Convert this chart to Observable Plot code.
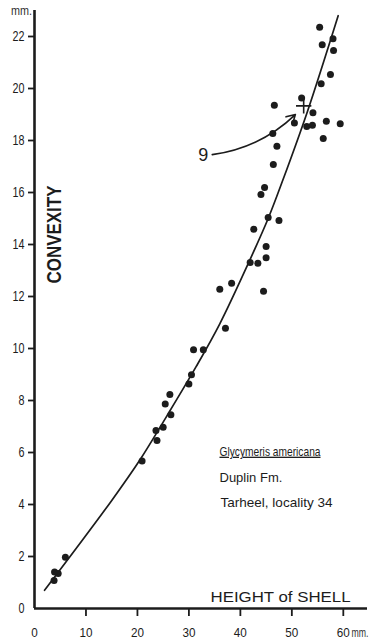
<!DOCTYPE html>
<html><head><meta charset="utf-8">
<script src="https://cdn.jsdelivr.net/npm/d3@7"></script>
<script src="https://cdn.jsdelivr.net/npm/@observablehq/plot@0.6"></script>
<style>
html,body{margin:0;padding:0;background:#fff;}
#chart{width:375px;height:644px;overflow:hidden;}
</style></head><body><div id="chart"></div>
<script>
// Scatter: height of shell (mm) vs convexity (mm)
const shellHeight = [55.4,58.0,55.9,58.1,57.5,55.7,51.9,46.6,54.1,50.5,52.9,54.0,56.7,59.4,56.1,46.3,47.1,46.4,44.7,44.0,45.4,47.5,42.6,45.0,45.0,41.9,43.4,38.3,36.0,44.5,37.1,30.9,32.8,30.5,30.0,26.3,25.4,26.5,25.0,23.6,23.8,20.9,6.0,4.6,3.9,3.8];
const convexity = [22.36,21.91,21.68,21.46,20.54,20.18,19.63,19.36,19.07,18.67,18.54,18.59,18.74,18.64,18.08,18.27,17.78,17.08,16.19,15.92,15.04,14.92,14.59,13.92,13.49,13.31,13.28,12.51,12.28,12.20,10.78,9.95,9.95,8.99,8.63,8.23,7.87,7.45,6.97,6.85,6.46,5.67,1.97,1.35,1.40,1.08];
// Fitted growth curve
const curveHeight = [1.95,14.8,20.6,25.7,31.4,36.0,41.6,45.4,48.2,53.0,59.0];
const curveConvexity = [0.70,4.1,5.75,7.4,9.3,10.95,13.3,15.0,16.45,19.1,22.8];
// Marked specimen "9"
const specimenHeight = [52.3];
const specimenConvexity = [19.33];
const specimenLabel = ["9"];
const labelHeight = [32.8];
const labelConvexity = [17.42];
// Axes and texts
const yTicks = [2,4,6,8,10,12,14,16,18,20,22];
const xTicks = [10,20,30,40,50,60];
const xTitle = ["HEIGHT of SHELL"];
const yTitle = ["CONVEXITY"];
const unitLabel = ["mm."];
const speciesName = ["Glycymeris americana"];
const formationName = ["Duplin Fm."];
const localityName = ["Tarheel, locality 34"];

const points = shellHeight.map((h,i)=>({h, c: convexity[i]}));
const curve = curveHeight.map((h,i)=>({h, c: curveConvexity[i]}));
const specimen = specimenHeight.map((h,i)=>({h, c: specimenConvexity[i], lh: labelHeight[i], lc: labelConvexity[i], label: specimenLabel[i]}));

const font = "'Liberation Sans',Arial,sans-serif";
const ink = "#1c1c1c";
const T = d => d;

const chart = Plot.plot({
  width: 375, height: 644,
  marginLeft: 34, marginRight: 8, marginTop: 10, marginBottom: 36,
  x: {domain: [0, 64.7], axis: null},
  y: {domain: [0, 23], axis: null},
  style: {fontFamily: font, color: ink, background: "#fff"},
  marks: [
    Plot.ruleX([0], {stroke: ink, strokeWidth: 2.6}),
    Plot.ruleY([0], {stroke: ink, strokeWidth: 2.6}),
    Plot.axisY(yTicks, {anchor: "left", tickSize: 6, tickPadding: 4, fontSize: 15, stroke: ink, strokeWidth: 1.8, fill: ink, label: null, tickFormat: d => String(d)}),
    Plot.axisY([0], {anchor: "left", tickSize: 0, tickPadding: 10, fontSize: 15, fill: ink, label: null, tickFormat: d => String(d)}),
    Plot.axisX(xTicks, {anchor: "bottom", tickSize: 8, tickPadding: 11, fontSize: 13.5, stroke: ink, strokeWidth: 1.8, fill: ink, label: null, tickFormat: d => String(d)}),
    Plot.axisX([0], {anchor: "bottom", tickSize: 0, tickPadding: 19, fontSize: 13.5, fill: ink, label: null, tickFormat: d => String(d)}),
    Plot.text(unitLabel, {text: T, frameAnchor: "top-left", dx: -13, dy: 1, textAnchor: "middle", lineAnchor: "middle", fontSize: 12, fill: "#333", className: "unit-top"}),
    Plot.text(unitLabel, {text: T, frameAnchor: "bottom-right", dx: -16, dy: 25, textAnchor: "start", lineAnchor: "middle", fontSize: 12, fill: "#333", className: "unit-bottom"}),
    Plot.text(xTitle, {text: T, frameAnchor: "bottom-right", dx: -17, dy: -11, textAnchor: "end", lineAnchor: "middle", fontSize: 15.5, fill: ink, className: "x-title"}),
    Plot.text(yTitle, {text: T, frameAnchor: "top-left", dx: 20.5, dy: 224, rotate: -90, textAnchor: "middle", lineAnchor: "middle", fontSize: 20, fontWeight: "bold", fill: ink, className: "y-title"}),
    Plot.text(speciesName, {text: T, frameAnchor: "top-left", dx: 185, dy: 441, textAnchor: "start", lineAnchor: "middle", fontSize: 13, fill: ink, className: "species-name"}),
    Plot.text(formationName, {text: T, frameAnchor: "top-left", dx: 185, dy: 467, textAnchor: "start", lineAnchor: "middle", fontSize: 13, fill: ink}),
    Plot.text(localityName, {text: T, frameAnchor: "top-left", dx: 186, dy: 492, textAnchor: "start", lineAnchor: "middle", fontSize: 13, fill: ink, className: "locality"}),
    Plot.line(curve, {x: "h", y: "c", curve: "catmull-rom", stroke: ink, strokeWidth: 1.7}),
    Plot.dot(points, {x: "h", y: "c", r: 3.5, fill: ink, stroke: "none"}),
    Plot.dot(specimen, {x: "h", y: "c", symbol: "plus", r: 5, stroke: ink, strokeWidth: 1.6}),
    Plot.arrow(specimen, {x1: "lh", y1: "lc", x2: "h", y2: "c", bend: -22, insetStart: 9, insetEnd: 12, headLength: 9, stroke: ink, strokeWidth: 1.6}),
    Plot.text(specimen, {x: "lh", y: "lc", text: "label", fontSize: 18, fill: ink})
  ]
});
document.getElementById("chart").appendChild(chart);

// condensed lettering like the original typeset figure
function squeeze(sel, widthFn) {
  chart.querySelectorAll(sel).forEach(t => {
    t.setAttribute("textLength", widthFn(t.textContent));
    t.setAttribute("lengthAdjust", "spacingAndGlyphs");
  });
}
squeeze('g[aria-label="y-axis tick label"] text', s => s.length * 6);
squeeze('g[aria-label="x-axis tick label"] text', s => s.length * 6.5);
squeeze("g.y-title text", () => 98);
squeeze("g.x-title text", () => 140);
squeeze("g.species-name text", () => 101);
squeeze("g.locality text", () => 112);
squeeze("g.unit-top text", () => 21);
squeeze("g.unit-bottom text", () => 17);
chart.querySelectorAll("g.species-name text").forEach(t => t.style.textDecoration = "underline");
</script>
</body></html>
